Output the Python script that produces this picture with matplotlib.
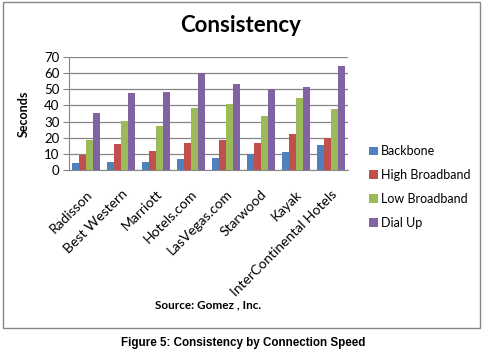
import matplotlib.pyplot as plt
import numpy as np
from matplotlib.patches import Rectangle

# Dataset
# --------
hotels = ["Radisson", "Best Western", "Marriott", "Hotels.com", "LasVegas.com",
          "Starwood", "Kayak", "InterContinental Hotels"]

backbone = [4.5, 5, 5, 7, 7.5, 10, 11, 15.5]
high_bb = [9, 16, 12, 16.5, 18.5, 17, 22, 20]
low_bb = [18.5, 30.5, 27.5, 38.5, 41, 33.5, 44.5, 38]
dial_up = [35.5, 47.5, 48.5, 60, 53.5, 50, 51.5, 64.5]

series = ["Backbone", "High Broadband", "Low Broadband", "Dial Up"]
colors = ["#4F81BD", "#C0504D", "#9BBB59", "#8064A2"]

# Draw Plot
# ---------
fig = plt.figure(figsize=(4.83, 3.57), dpi=100)
font = "Lato"

# outer border of chart
fig.patches.append(Rectangle((3 / 483, 1 - 328 / 357), 477 / 483, 326 / 357,
                             transform=fig.transFigure, fill=False,
                             edgecolor="#868686", lw=1))

ax = fig.add_axes([69 / 483, 1 - 170 / 357, 279 / 483, 113 / 357])

x = np.arange(len(hotels))
w = 0.2
for i, (vals, name) in enumerate(zip([backbone, high_bb, low_bb, dial_up], series)):
    ax.bar(x + (i - 1.5) * w, vals, w, color=colors[i], label=name, zorder=3)

ax.set_xlim(-0.5, len(hotels) - 0.5)
ax.set_ylim(0, 70)
ax.set_yticks(range(0, 71, 10))
ax.yaxis.grid(True, color="#868686", lw=0.9, zorder=0)
ax.set_xticks(x)
ax.set_xticklabels(hotels, rotation=45, ha="right", rotation_mode="anchor",
                   fontsize=10, family=font)
for lab in ax.get_yticklabels():
    lab.set_family(font)
    lab.set_fontsize(9.5)
ax.tick_params(axis="x", length=0, pad=13)
ax.tick_params(axis="y", length=4, color="#868686", pad=3)
for s in ["top", "right"]:
    ax.spines[s].set_visible(False)
ax.spines["left"].set_color("#868686")
ax.spines["bottom"].set_color("#868686")

ax.set_ylabel("Seconds", fontsize=9, fontweight="bold", family=font, labelpad=10)

fig.text(241 / 483, 1 - 25 / 357, "Consistency", ha="center", va="center",
         fontsize=16, fontweight="bold", family=font)
fig.text(208 / 483, 1 - 305 / 357, "Source: Gomez , Inc.", ha="center",
         va="center", fontsize=8.5, fontweight="bold", family=font)
fig.text(243 / 483, 1 - 343 / 357, "Figure 5: Consistency by Connection Speed",
         ha="center", va="center", fontsize=8.4, fontweight="bold",
         family="Liberation Sans")

leg = ax.legend(loc="upper left", bbox_to_anchor=(358 / 483, 1 - 134 / 357),
                bbox_transform=fig.transFigure, frameon=False,
                prop={"family": font, "size": 9}, handlelength=0.7,
                handleheight=0.7, handletextpad=0.25, labelspacing=0.95)

fig.savefig("out.png", dpi=100)
